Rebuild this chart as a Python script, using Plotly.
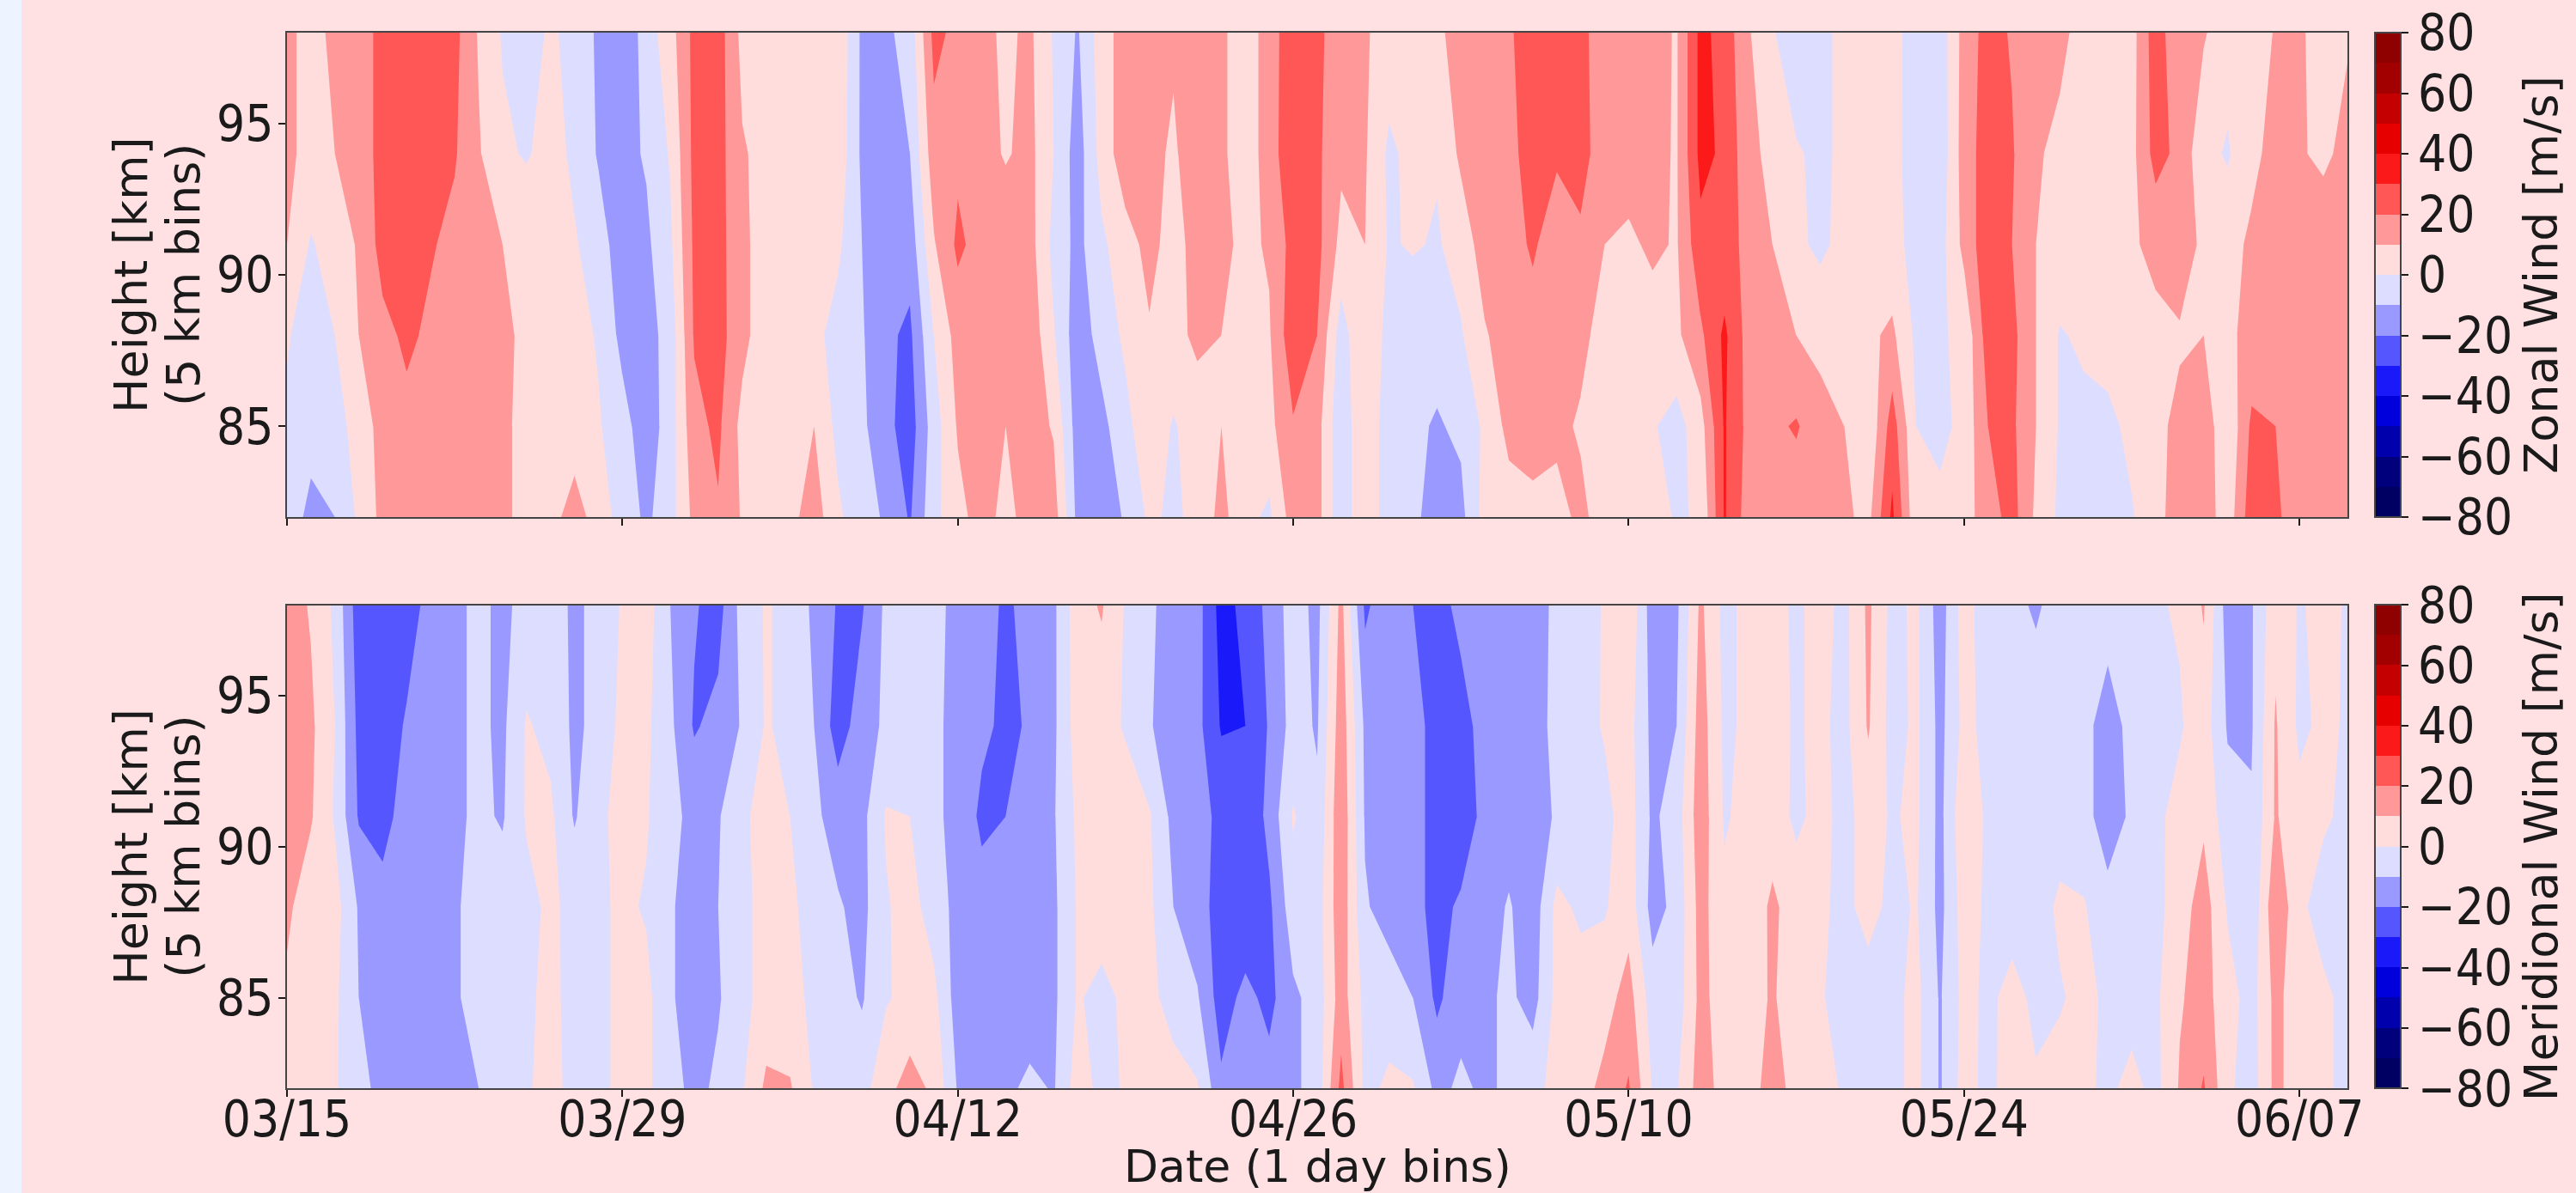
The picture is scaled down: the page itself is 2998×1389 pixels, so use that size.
import plotly.graph_objects as go

days = list(range(87))
heights = [82, 85, 88, 91, 94, 98]
date_ticks = [0, 14, 28, 42, 56, 70, 84]
date_labels = ["03/15", "03/29", "04/12", "04/26", "05/10", "05/24", "06/07"]
height_ticks = [85, 90, 95]
wind_ticks = [-80, -60, -40, -20, 0, 20, 40, 60, 80]

zonal_98 = [12,7,12,17,22,26,28,23,9,-1, -3,1,-2,-12,-19,-5,6,23,25,7, 5,5,6,8,-12,-12,-6,23,17,13,
            8,12,-1,-11,5,15,16,11,16,12, 4,15,27,23,13,11,6,5,8,14, 17,19,24,22,21,18,16,14,9,33,
            26,11,1,-7,-3,3,5,3,-4,-6, 14,24,19,16,12,7,6,6,26,11, 11,4,3,11,11,7,9]
zonal_94 = [12,7,10,17,22,25,27,21,11,2, -1,4,-2,-11,-13,-9,1,23,24,11, 7,6,5,7,-12,-15,-10,16,18,14,
            9,13,0,-15,4,16,12,9,14,12, 4,15,28,22,12,11,-2,3,1,12, 17,18,23,21,22,17,15,13,9,33,
            28,13,7,1,-2,2,5,2,-3,-7, 15,25,21,11,8,7,6,7,24,17, 3,-1,7,14,11,8,13]
zonal_91 = [10,-1,5,11,24,26,21,17,14,10, 8,5,1,-5,-16,-12,-2,22,24,12, 6,5,6,2,-10,-15,-16,9,22,16,
            17,14,-3,-13,-2,6,13,6,14,12, 8,11,24,23,7,10,-1,1,-1,4, 15,17,21,16,19,10,8,12,9,27,
            23,18,10,2,-2,3,6,3,-3,-4, 13,27,20,10,8,7,6,9,12,15, 8,6,12,14,15,16,14]
zonal_88 = [1,-5,0,10,17,22,18,16,14,12, 8,6,4,-1,-13,-14,-6,21,24,13, 4,5,3,-4,-9,-18,-22,0,14,15,
            16,17,1,-16,-6,2,9,7,12,10, 6,9,27,20,-5,10,-4,-7,-6,-1, 9,15,17,15,12,7,6,5,8,18,
            32,16,14,10,7,5,8,12,-2,-1, 2,25,23,10,-1,2,5,6,8,9, 10,8,13,16,17,15,16]
zonal_85 = [-2,-6,-4,4,14,17,18,18,16,12, 7,5,4,1,-6,-16,-5,17,22,7, 6,7,10,-3,-8,-17,-25,-5,11,14,
            10,15,9,-15,-13,-3,7,-1,5,10, 4,7,19,14,-8,10,-7,-8,-11,-8, 2,13,16,12,9,7,6,1,-4,6,
            31,17,18,21,14,10,1,25,0,-3, 3,20,22,10,-1,-3,-3,3,8,12, 17,1,22,20,15,20,15]
zonal_82 = [-4,-13,-10,2,13,15,16,17,15,12, 7,6,15,5,-4,-12,-4,13,19,9, 6,7,15,2,-7,-11,-21,-3,7,14,
            7,14,15,-13,-15,-9,2,-2,3,13, 3,-2,15,14,-8,10,-7,-8,-14,-13, 4,5,6,7,12,6,5,4,-1,1,
            31,15,15,14,14,12,7,32,2,3, 6,15,24,8,-2,-3,-3,-1,8,13, 16,4,26,22,14,13,14]

merid_98 = [15,9,-2,-26,-28,-24,-17,-12,-8,-12, -7,-5,-12,-7,1,5,-10,-19,-24,-6, 1,-3,-12,-21,-21,-8,-6,-8,-12,-15,
            -22,-16,-12,6,11,-1,-8,-15,-16,-34, -27,-17,-5,-13,13,-22,-13,-20,-24,-17, -15,-15,-14,-8,-5,1,9,-16,-12,12,
            -3,3,4,-2,4,-3,12,-3,2,-15, 5,-7,-8,-11,-7,-5,-7,-3,-1,1, 11,-15,-11,7,-1,3,-1]
merid_94 = [15,12,0,-23,-25,-19,-18,-12,-8,-12, 1,-3,-12,-7,3,2,-8,-21,-17,-9, 1,-3,-10,-25,-15,-8,-5,-8,-13,-18,
            -22,-19,-12,5,4,-1,-9,-16,-17,-31, -30,-19,-6,-11,16,-12,-14,-17,-23,-24, -16,-14,-13,-8,-4,1,4,-13,-10,15,
            -2,2,3,-1,2,-3,11,-4,2,-13, 3,-3,-5,-6,-7,-8,-13,-8,-4,-1, 5,-11,-11,11,-2,2,-1]
merid_91 = [14,11,-1,-21,-24,-15,-14,-12,-8,-11, 1,2,-11,-2,3,1,-7,-13,-11,-1, 2,0,-8,-14,-13,1,0,-8,-13,-22,
            -20,-17,-11,2,4,5,1,-13,-17,-22, -29,-17,1,-8,18,-11,-13,-17,-23,-24, -18,-15,-14,-9,-6,-3,5,-12,-5,16,
            -1,3,5,-2,3,-3,4,-1,2,-13, 8,-2,-3,-4,-5,-8,-13,-9,-2,3, 8,-6,-9,11,3,2,-3]
merid_88 = [12,4,4,-11,-16,-19,-18,-11,-7,-5, -3,2,-3,-2,2,-1,-9,-14,-10,-3, 4,2,-4,-9,-13,-1,4,-5,-13,-16,
            -18,-18,-12,1,5,6,2,-10,-16,-24, -28,-22,-4,-5,17,-9,-14,-18,-22,-19, -15,-9,-16,3,-2,-1,6,-14,-7,14,
            2,3,12,5,2,-3,4,-3,1,-13, 5,-2,-4,-5,2,1,-8,-10,-3,5, 15,-1,-8,18,3,-6,-5]
merid_85 = [8,5,2,-10,-12,-14,-14,-11,-7,-5, -2,3,-4,-3,3,3,-9,-14,-11,-3, 4,3,-2,-6,-11,-1,3,3,-15,-16,
            -17,-18,-12,1,-3,2,4,-6,-9,-25, -17,-23,-12,-6,15,-3,-5,-10,-22,-14, -12,-8,-14,3,5,6,14,-5,-6,13,
            5,6,11,5,1,-4,-5,-3,3,-11, 3,-2,3,-2,-1,3,-2,-4,-2,9, 14,4,-4,13,4,3,-4]
merid_82 = [3,4,1,-7,-13,-15,-15,-13,-10,-6, -1,3,-3,-3,3,2,-6,-13,-8,-1, 12,11,-1,-3,-4,7,14,8,-11,-14,
            -13,-7,-11,5,-3,1,5,6,1,-18, -17,-16,-12,-6,23,-3,2,1,-13,-8, -12,-8,-3,3,6,13,21,-1,-1,15,
            6,5,15,6,3,-1,-3,-3,3,-11, 4,-3,5,1,4,2,-2,3,-3,11, 21,2,-5,13,4,3,-4]

zonal = [zonal_82, zonal_85, zonal_88, zonal_91, zonal_94, zonal_98]
meridional = [merid_82, merid_85, merid_88, merid_91, merid_94, merid_98]

band_mid = [-75, -65, -55, -45, -35, -25, -15, -5, 5, 15, 25, 35, 45, 55, 65, 75]
band_col = ["#000063", "#00008f", "#0000bc", "#0000e9", "#2020ff", "#6060ff", "#9f9fff", "#dfdfff",
            "#ffdfdf", "#ff9f9f", "#ff6060", "#ff2020", "#ef0000", "#cf0000", "#af0000", "#8f0000"]
scale = [[0, band_col[0]]] + [[(v + 85) / 170, c] for v, c in zip(band_mid, band_col)] + [[1, band_col[-1]]]

W, H = 2998, 1389
L, R = 334, 2732
T1, B1 = 38, 602
T2, B2 = 704.5, 1267
CB_X = 2764
H_FONT = "DejaVu Sans Condensed, DejaVu Sans"
V_FONT = "DejaVu Sans"
H_SIZE = 58
V_SIZE = 54
INK = "#1a1a1a"
FRAME = "#444444"


def cbar(title, top, bot):
    return dict(
        x=CB_X / W, xanchor="left", xref="paper",
        y=1 - (top + bot) / 2 / H, yanchor="middle", yref="paper",
        len=(bot - top) / H, lenmode="fraction", thickness=30, thicknessmode="pixels",
        outlinecolor=FRAME, outlinewidth=2, borderwidth=0, xpad=0, ypad=0,
        tickmode="array", tickvals=wind_ticks, ticks="outside", ticklen=8, tickwidth=2,
        tickcolor=INK, tickfont=dict(family=H_FONT, size=H_SIZE, color=INK),
        title=dict(text=title, side="right", font=dict(family=V_FONT, size=V_SIZE, color=INK)),
    )


def contour(z, ax, title, top, bot):
    return go.Contour(
        x=days, y=heights, z=z, xaxis="x" + ax, yaxis="y" + ax,
        zmin=-80, zmax=80, autocontour=False,
        contours=dict(start=-80, end=80, size=10, coloring="fill", showlines=False),
        line=dict(width=0, smoothing=0), colorscale=scale, colorbar=cbar(title, top, bot),
    )


def label(text, x_px, y_px, angle, family, size):
    return dict(text=text, x=x_px / W, y=1 - y_px / H, xref="paper", yref="paper", showarrow=False,
                textangle=angle, xanchor="center", yanchor="middle",
                font=dict(family=family, size=size, color=INK))


fig = go.Figure([
    contour(zonal, "", "Zonal Wind [m/s]", T1, B1),
    contour(meridional, "2", "Meridional Wind [m/s]", T2, B2),
])

axis_common = dict(showgrid=False, zeroline=False, showline=True, linecolor=FRAME, linewidth=2,
                   mirror=True, ticks="outside", ticklen=8, tickwidth=2, tickcolor=INK,
                   tickfont=dict(family=H_FONT, size=H_SIZE, color=INK))
xrange_ = dict(range=[0, 86], tickmode="array", tickvals=date_ticks)
y_common = dict(range=[82, 98], tickmode="array", tickvals=height_ticks, ticklabelstandoff=-6)

fig.update_layout(
    width=W, height=H, autosize=False,
    paper_bgcolor="#ffe1e4", plot_bgcolor="#ffe1e4",
    margin=dict(l=0, r=0, t=0, b=0, autoexpand=False),
    showlegend=False,
    xaxis=dict(domain=[L / W, R / W], anchor="y", ticktext=[""] * len(date_ticks), **xrange_, **axis_common),
    yaxis=dict(domain=[1 - B1 / H, 1 - T1 / H], anchor="x", **y_common, **axis_common),
    xaxis2=dict(domain=[L / W, R / W], anchor="y2", ticktext=date_labels, ticklabelstandoff=-24,
                **xrange_, **axis_common),
    yaxis2=dict(domain=[1 - B2 / H, 1 - T2 / H], anchor="x2", **y_common, **axis_common),
    annotations=[
        label("Height [km]", 153, (T1 + B1) / 2, -90, V_FONT, V_SIZE),
        label("(5 km bins)", 214, (T1 + B1) / 2, -90, V_FONT, V_SIZE),
        label("Height [km]", 153, (T2 + B2) / 2, -90, V_FONT, V_SIZE),
        label("(5 km bins)", 214, (T2 + B2) / 2, -90, V_FONT, V_SIZE),
        label("Date (1 day bins)", (L + R) / 2, 1358, 0, V_FONT, 52),
    ],
    shapes=[dict(type="rect", xref="paper", yref="paper", x0=0, x1=25 / W, y0=0, y1=1,
                 fillcolor="#eef4ff", line=dict(width=0), layer="below")],
)
fig.write_html("out.html", config=dict(displayModeBar=False),
               post_script="document.body.style.margin='0';document.documentElement.style.margin='0';")
